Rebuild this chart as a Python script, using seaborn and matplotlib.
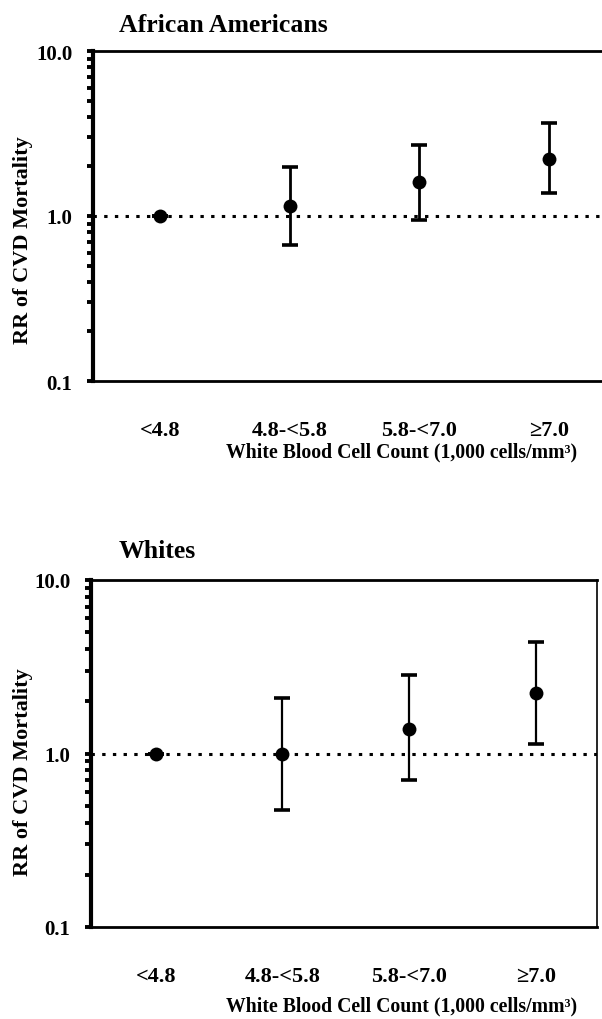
import matplotlib
matplotlib.use("Agg")
import matplotlib.pyplot as plt
import seaborn as sns
import pandas as pd
import numpy as np

# ---- data ----
categories = ["<4.8", "4.8-<5.8", "5.8-<7.0", "\u22657.0"]
aa_rr = [1.0, 1.15, 1.60, 2.23]
aa_lo = [1.0, 0.67, 0.95, 1.38]
aa_hi = [1.0, 1.97, 2.70, 3.66]
wh_rr = [1.0, 1.0, 1.39, 2.22]
wh_lo = [1.0, 0.47, 0.70, 1.13]
wh_hi = [1.0, 2.10, 2.82, 4.38]
titles = ["African Americans", "Whites"]
ytick_vals = [0.1, 1.0, 10.0]
ytick_labels = ["0.1", "1.0", "10.0"]
xlabel = "White Blood Cell Count (1,000 cells/mm\u00b3)"
ylabel = "RR of CVD Mortality"

sns.set_style("white")
plt.rcParams["font.family"] = ["Liberation Serif", "DejaVu Serif"]
plt.rcParams["font.weight"] = "bold"
for k in ["text.color", "axes.labelcolor", "xtick.color", "ytick.color", "axes.edgecolor"]:
    plt.rcParams[k] = "black"

fig = plt.figure(figsize=(6.02, 10.20), dpi=100)
W, H = 602.0, 1020.0
boxes = [(93, 52, 603, 382), (91, 581, 597, 928)]
xlims = [(-0.52, 3.42), (-0.51, 3.48)]
panels = [(aa_rr, aa_lo, aa_hi), (wh_rr, wh_lo, wh_hi)]
elw = [2.0, 1.6]

for i, ((x0, y0, x1, y1), (rr, lo, hi)) in enumerate(zip(boxes, panels)):
    ax = fig.add_axes([x0 / W, 1 - y1 / H, (x1 - x0) / W, (y1 - y0) / H])
    df = pd.DataFrame({"cat": categories, "rr": rr})
    ax.set_yscale("log")
    ax.axhline(1.0, color="black", lw=2.2, ls=(0, (1.1, 2.4)), zorder=1)
    rr_a = np.array(rr)
    yerr = np.vstack([rr_a - np.array(lo), np.array(hi) - rr_a])
    ax.errorbar(categories, rr, yerr=yerr, fmt="none", ecolor="black",
                elinewidth=elw[i], capsize=6, capthick=2.6, zorder=2)
    sns.scatterplot(data=df, x="cat", y="rr", ax=ax, color="black", s=100,
                    edgecolor="black", linewidth=0, zorder=3, legend=False)
    ax.set_ylim(0.1, 10.0)
    ax.set_xlim(*xlims[i])
    ax.set_yticks(ytick_vals)
    ax.set_yticklabels(ytick_labels, fontsize=15, fontweight="bold")
    ax.tick_params(axis="y", which="major", direction="out", length=4, width=2.8,
                   pad=11, left=True)
    ax.tick_params(axis="y", which="minor", direction="out", length=4, width=2.8,
                   left=True)
    ax.tick_params(axis="x", length=0, pad=28, labelsize=16)
    for lab in ax.get_xticklabels():
        lab.set_fontweight("bold")
    ax.spines["left"].set_linewidth(3.0)
    ax.spines["bottom"].set_linewidth(2.0)
    ax.spines["top"].set_linewidth(2.0)
    ax.spines["right"].set_linewidth(1.2)
    if i == 0:
        ax.spines["right"].set_visible(False)
    ax.set_xlabel(xlabel, fontsize=14.2, fontweight="bold")
    ax.xaxis.set_label_coords((402 - x0) / (x1 - x0),
                              -(452 - 382) / (y1 - y0) if i == 0 else -(1006 - 928) / (y1 - y0))
    ax.xaxis.label.set_va("center")
    ax.set_ylabel(ylabel, fontsize=16, fontweight="bold")
    ax.yaxis.set_label_coords((23 - x0) / (x1 - x0), 0.43 if i == 0 else 0.45)
    ax.yaxis.label.set_va("center")
    ty = 25 if i == 0 else 552
    ax.text((119 - x0) / (x1 - x0), (y1 - ty) / (y1 - y0), titles[i],
            transform=ax.transAxes, fontsize=18.5, fontweight="bold",
            ha="left", va="center")

fig.savefig("out.png", dpi=100)
